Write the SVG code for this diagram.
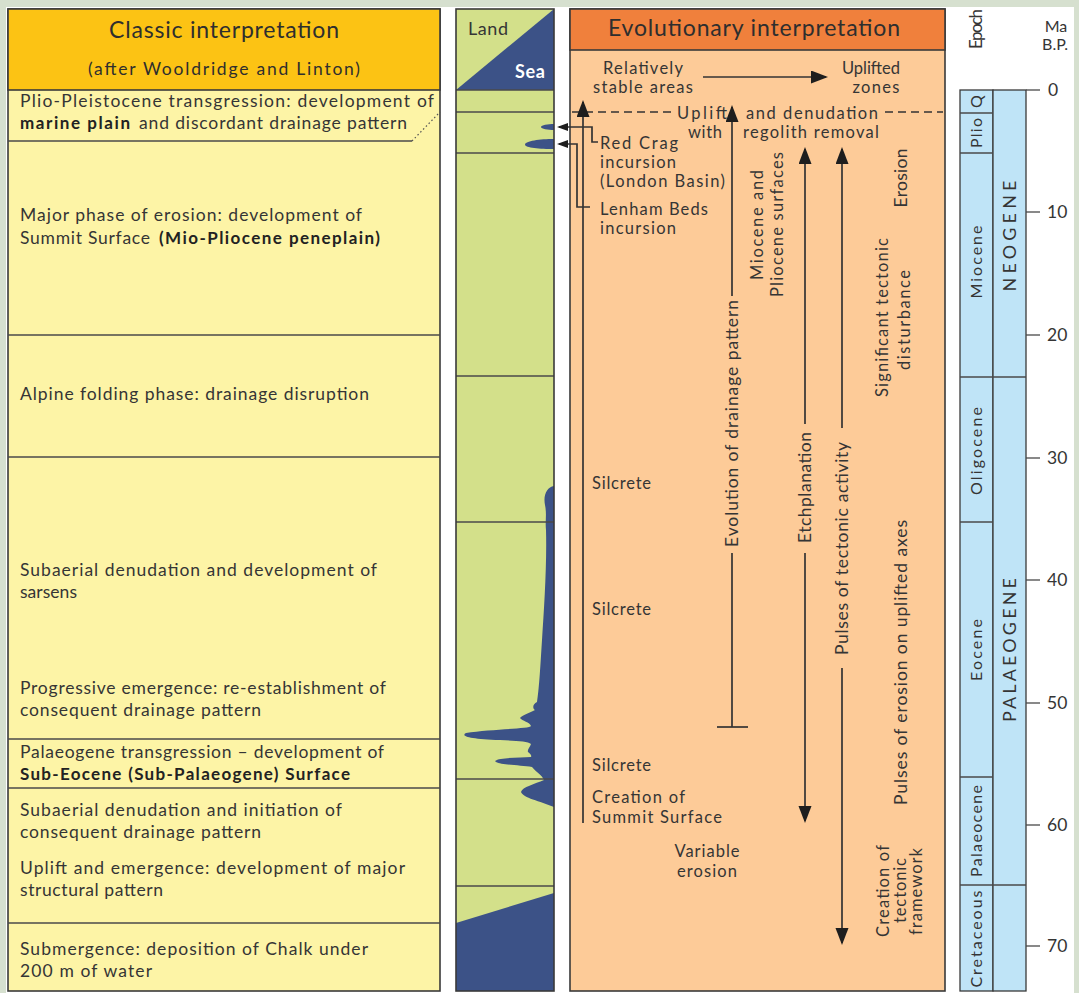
<svg xmlns="http://www.w3.org/2000/svg" width="1079" height="993" viewBox="0 0 1079 993">
<defs>
<style>
text{font-family:Lato,"Open Sans","Liberation Sans",sans-serif;fill:#353535;font-size:17.5px}
.b{font-weight:700;fill:#222;font-size:17px}
.h{font-size:23px;fill:#2e2e2e}
.h2{font-size:17.5px;fill:#2e2e2e}
.r{font-size:16.5px}
.m{text-anchor:middle}
.ep{font-size:16px;text-anchor:middle}
.ln{stroke:#4a4a4a;stroke-width:1.3;fill:none}
.box{stroke:#3a3a3a;stroke-width:1.6}
.ar{stroke:#333;stroke-width:1.7;fill:none}
.dash{stroke:#333;stroke-width:1.7;stroke-dasharray:8 5;fill:none}
.sea{fill:#3c5287}
</style>
<marker id="ah" markerWidth="18" markerHeight="14" refX="15" refY="6.5" orient="auto" markerUnits="userSpaceOnUse"><path d="M0,0 L17,6.5 L0,13 Z" fill="#1e1e1e"/></marker>
<marker id="as" markerWidth="12" markerHeight="9" refX="9" refY="4" orient="auto" markerUnits="userSpaceOnUse"><path d="M0,0 L11,4 L0,8 Z" fill="#1e1e1e"/></marker>
</defs>

<rect width="1079" height="993" fill="#d6e0cf"/>
<rect x="6" y="7" width="1068" height="990" fill="#ffffff"/>

<!-- Classic interpretation column -->
<g id="classic">
  <rect x="8" y="9" width="432" height="982" fill="#fdf4a6" class="box"/>
  <g id="classic-header">
    <rect x="8" y="9" width="432" height="81" fill="#fcc314" class="box"/>
    <text class="h m" x="224" y="38" textLength="230">Classic interpretation</text>
    <text class="h2 m" x="224" y="75" textLength="272">(after Wooldridge and Linton)</text>
  </g>
  <line class="ln" x1="8" y1="141" x2="412" y2="141"/>
  <line x1="412" y1="141" x2="440" y2="112" stroke="#555" stroke-width="1.2" stroke-dasharray="1.5 2.5"/>
  <line class="ln" x1="8" y1="335" x2="440" y2="335"/>
  <line class="ln" x1="8" y1="457" x2="440" y2="457"/>
  <line class="ln" x1="8" y1="739" x2="440" y2="739"/>
  <line class="ln" x1="8" y1="788" x2="440" y2="788"/>
  <line class="ln" x1="8" y1="923" x2="440" y2="923"/>
  <g id="row-plio">
    <text x="20" y="107" textLength="414">Plio-Pleistocene transgression: development of</text>
    <text class="b" x="20" y="129" textLength="110">marine plain</text>
    <text x="139" y="129" textLength="268">and discordant drainage pattern</text>
  </g>
  <g id="row-major">
    <text x="20" y="221" textLength="342">Major phase of erosion: development of</text>
    <text x="20" y="244" textLength="130">Summit Surface</text>
    <text class="b" x="159" y="244" textLength="221">(Mio-Pliocene peneplain)</text>
  </g>
  <g id="row-alpine">
    <text x="20" y="400" textLength="349">Alpine folding phase: drainage disruption</text>
  </g>
  <g id="row-subaerial">
    <text x="20" y="576" textLength="357">Subaerial denudation and development of</text>
    <text x="20" y="598" textLength="57">sarsens</text>
    <text x="20" y="694" textLength="366">Progressive emergence: re-establishment of</text>
    <text x="20" y="716" textLength="241">consequent drainage pattern</text>
  </g>
  <g id="row-palaeogene">
    <text x="20" y="758" textLength="364">Palaeogene transgression – development of</text>
    <text class="b" x="20" y="780" textLength="330">Sub-Eocene (Sub-Palaeogene) Surface</text>
  </g>
  <g id="row-uplift">
    <text x="20" y="816" textLength="322">Subaerial denudation and initiation of</text>
    <text x="20" y="838" textLength="241">consequent drainage pattern</text>
    <text x="20" y="874" textLength="385">Uplift and emergence: development of major</text>
    <text x="20" y="896" textLength="143">structural pattern</text>
  </g>
  <g id="row-chalk">
    <text x="20" y="955" textLength="348">Submergence: deposition of Chalk under</text>
    <text x="20" y="977" textLength="132">200 m of water</text>
  </g>
</g>

<!-- Land/Sea strip -->
<g id="landsea">
  <rect x="456" y="9" width="98" height="982" fill="#d3e08a"/>
  <polygon class="sea" points="456,90 554,9 554,90"/>
  <path class="sea" d="M554,124 C548,124 541,125 541,127 C541,129 548,130 554,130 Z"/>
  <path class="sea" d="M554,139 C540,139 525,141 525,144.5 C525,148 540,149 554,149 Z"/>
  <path class="sea" d="M554,486 C547,487 543,495 545,505 C547,515 545,521 546,530 C547,565 544,610 542,640 C540,672 539,690 537,702 C533,704 532,708 535,710 C530,713 522,715 520,718 C522,721 530,722 531,726 C530,729 490,729 466,733 C460,736 470,739 500,740 C515,741 528,741 531,744 C530,747 527,750 528,752 C530,754 532,755 531,757 C520,758 500,757 495,761 C497,765 520,765 532,767 C536,772 542,775 544,780 C535,784 522,787 521,792 C523,798 540,801 554,807 Z"/>
  <polygon class="sea" points="456,923 554,893 554,991 456,991"/>
  <line class="ln" x1="456" y1="112" x2="554" y2="112"/>
  <line class="ln" x1="456" y1="153" x2="554" y2="153"/>
  <line class="ln" x1="456" y1="376" x2="554" y2="376"/>
  <line class="ln" x1="456" y1="522" x2="554" y2="522"/>
  <line class="ln" x1="456" y1="779" x2="554" y2="779"/>
  <line class="ln" x1="456" y1="886" x2="554" y2="886"/>
  <line class="ln" x1="456" y1="90" x2="554" y2="90"/>
  <rect x="456" y="9" width="98" height="982" fill="none" class="box"/>
  <text x="468" y="35" style="font-size:18px" textLength="40">Land</text>
  <text x="515" y="78" style="font-size:18px;fill:#ffffff;font-weight:700" textLength="30">Sea</text>
</g>

<!-- Evolutionary interpretation column -->
<g id="evolutionary">
  <rect x="570" y="9" width="375" height="982" fill="#fdcb98" class="box"/>
  <g id="evo-header">
    <rect x="570" y="9" width="375" height="41" fill="#f0803c" class="box"/>
    <text class="h m" x="754" y="36" textLength="292">Evolutionary interpretation</text>
  </g>
  <g id="stable">
    <text class="r m" x="643" y="74" textLength="80">Relatively</text>
    <text class="r m" x="643" y="93" textLength="100">stable areas</text>
  </g>
  <g id="uplifted">
    <text class="r m" x="871" y="74" textLength="58">Uplifted</text>
    <text class="r m" x="876" y="93" textLength="47">zones</text>
  </g>
  <g id="uplift-label">
    <text class="r" x="677" y="119" textLength="50">Uplift</text>
    <text class="r" x="688" y="138" textLength="34">with</text>
    <text class="r" x="746" y="119" textLength="132">and denudation</text>
    <text class="r" x="743" y="138" textLength="136">regolith removal</text>
  </g>
  <g id="redcrag">
    <text class="r" x="600" y="149" textLength="78">Red Crag</text>
    <text class="r" x="600" y="168" textLength="76">incursion</text>
    <text class="r" x="600" y="187" textLength="125">(London Basin)</text>
  </g>
  <g id="lenham">
    <text class="r" x="600" y="215" textLength="108">Lenham Beds</text>
    <text class="r" x="600" y="234" textLength="76">incursion</text>
  </g>
  <g id="silcretes">
    <text class="r" x="592" y="489" textLength="59">Silcrete</text>
    <text class="r" x="592" y="615" textLength="59">Silcrete</text>
    <text class="r" x="592" y="771" textLength="59">Silcrete</text>
  </g>
  <g id="creation-summit">
    <text class="r" x="592" y="803" textLength="93">Creation of</text>
    <text class="r" x="592" y="823" textLength="130">Summit Surface</text>
  </g>
  <g id="variable">
    <text class="r m" x="707" y="857" textLength="65">Variable</text>
    <text class="r m" x="707" y="877" textLength="60">erosion</text>
  </g>
  <g id="vertical-labels">
    <text class="m" transform="translate(738,423.5) rotate(-90)" textLength="247">Evolution of drainage pattern</text>
    <text class="m" transform="translate(811,487.5) rotate(-90)" textLength="111">Etchplanation</text>
    <text class="m" transform="translate(848,548.5) rotate(-90)" textLength="213">Pulses of tectonic activity</text>
    <text class="r m" transform="translate(763,225) rotate(-90)" textLength="110">Miocene and</text>
    <text class="r m" transform="translate(783,224.5) rotate(-90)" textLength="145">Pliocene surfaces</text>
    <text class="m" transform="translate(907,178) rotate(-90)" textLength="59">Erosion</text>
    <text class="r m" transform="translate(888,317.5) rotate(-90)" textLength="159">Significant tectonic</text>
    <text class="r m" transform="translate(910,320) rotate(-90)" textLength="100">disturbance</text>
    <text class="m" transform="translate(907,662.5) rotate(-90)" textLength="285">Pulses of erosion on uplifted axes</text>
    <text class="r m" transform="translate(889,891) rotate(-90)" textLength="92">Creation of</text>
    <text class="r m" transform="translate(906,890.5) rotate(-90)" textLength="65">tectonic</text>
    <text class="r m" transform="translate(922,891.5) rotate(-90)" textLength="87">framework</text>
  </g>
</g>

<!-- Epoch / period timescale -->
<g id="timescale">
  <rect x="960" y="90" width="33" height="901" fill="#bfe4f7" stroke="#3a3a3a" stroke-width="1.3"/>
  <rect x="993" y="90" width="33" height="901" fill="#bfe4f7" stroke="#3a3a3a" stroke-width="1.3"/>
  <line class="ln" x1="960" y1="113" x2="993" y2="113"/>
  <line class="ln" x1="960" y1="153" x2="993" y2="153"/>
  <line class="ln" x1="960" y1="377" x2="1026" y2="377"/>
  <line class="ln" x1="960" y1="522" x2="993" y2="522"/>
  <line class="ln" x1="960" y1="777" x2="993" y2="777"/>
  <line class="ln" x1="960" y1="885" x2="1026" y2="885"/>
  <text class="ep" style="font-size:17px" transform="translate(982,29) rotate(-90)" textLength="40">Epoch</text>
  <text class="ep" transform="translate(982,101.5) rotate(-90)">Q</text>
  <text class="ep" transform="translate(982,133) rotate(-90)" textLength="30">Plio</text>
  <text class="ep" transform="translate(982,262) rotate(-90)" textLength="73">Miocene</text>
  <text class="ep" transform="translate(982,451) rotate(-90)" textLength="88">Oligocene</text>
  <text class="ep" transform="translate(982,650) rotate(-90)" textLength="62">Eocene</text>
  <text class="ep" transform="translate(982,831) rotate(-90)" textLength="92">Palaeocene</text>
  <text class="ep" transform="translate(982,939) rotate(-90)" textLength="97">Cretaceous</text>
  <text class="ep" style="font-size:18px" transform="translate(1016,236) rotate(-90)" textLength="111">NEOGENE</text>
  <text class="ep" style="font-size:18px" transform="translate(1016,650) rotate(-90)" textLength="144">PALAEOGENE</text>
  <text class="m" style="font-size:16px" x="1056" y="32">Ma</text>
  <text class="m" style="font-size:16px" x="1055" y="50">B.P.</text>
  <g class="ln">
    <line x1="1026" y1="90" x2="1040" y2="90"/>
    <line x1="1026" y1="212" x2="1040" y2="212"/>
    <line x1="1026" y1="335" x2="1040" y2="335"/>
    <line x1="1026" y1="458" x2="1040" y2="458"/>
    <line x1="1026" y1="580" x2="1040" y2="580"/>
    <line x1="1026" y1="703" x2="1040" y2="703"/>
    <line x1="1026" y1="825" x2="1040" y2="825"/>
    <line x1="1026" y1="946" x2="1040" y2="946"/>
  </g>
  <text x="1048" y="96">0</text>
  <text x="1047" y="218">10</text>
  <text x="1047" y="341">20</text>
  <text x="1047" y="464">30</text>
  <text x="1047" y="586">40</text>
  <text x="1047" y="709">50</text>
  <text x="1047" y="831">60</text>
  <text x="1047" y="952">70</text>
</g>

<!-- Connectors -->
<g id="connectors">
  <line class="dash" x1="572" y1="112" x2="673" y2="112"/>
  <line class="dash" x1="885" y1="112" x2="943" y2="112"/>
  <line class="ar" x1="583" y1="823" x2="583" y2="102" marker-end="url(#ah)"/>
  <polyline class="ar" points="598,142 592,142 592,127 559,127" marker-end="url(#as)"/>
  <polyline class="ar" points="590,207 577,207 577,144 559,144" marker-end="url(#as)"/>
  <line class="ar" x1="703" y1="77" x2="826" y2="77" marker-end="url(#ah)"/>
  <line class="ar" x1="732" y1="296" x2="732" y2="107" marker-end="url(#ah)"/>
  <line class="ar" x1="732" y1="553" x2="732" y2="727"/>
  <line class="ar" x1="717" y1="727" x2="748" y2="727"/>
  <line class="ar" x1="805" y1="424" x2="805" y2="149" marker-end="url(#ah)"/>
  <line class="ar" x1="805" y1="553" x2="805" y2="821" marker-end="url(#ah)"/>
  <line class="ar" x1="842" y1="428" x2="842" y2="149" marker-end="url(#ah)"/>
  <line class="ar" x1="842" y1="668" x2="842" y2="943" marker-end="url(#ah)"/>
</g>
</svg>
